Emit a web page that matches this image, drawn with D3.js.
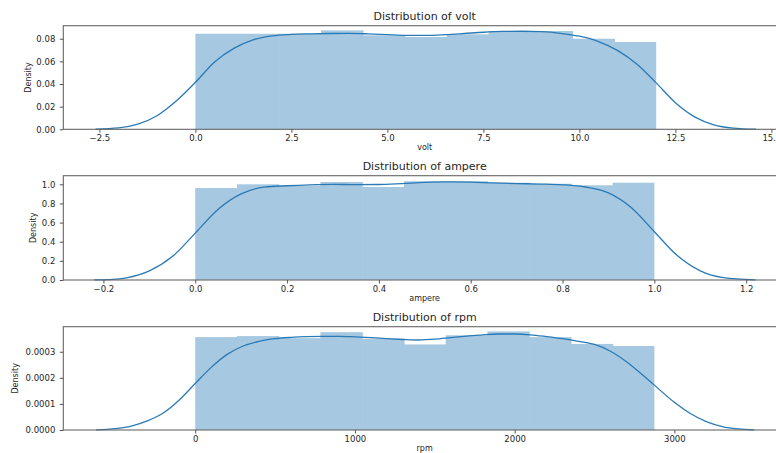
<!DOCTYPE html>
<html>
<head>
<meta charset="utf-8">
<script src="https://cdn.jsdelivr.net/npm/d3@7"></script>
<style>
  body { margin: 0; background: #fff; }
  text { font-family: "DejaVu Sans", sans-serif; fill: #262626; }
</style>
</head>
<body>
<div id="graf"></div>
<script>
// histogram heights (11 equal bins each)
var voltHist = [0.0844, 0.0844, 0.0844, 0.0874, 0.0830, 0.0815, 0.0839, 0.0868, 0.0868, 0.0800, 0.0771]
var voltRange = [0, 12]
var ampereHist = [0.961, 1.000, 0.985, 1.024, 0.972, 1.032, 1.032, 1.017, 1.006, 0.990, 1.017]
var ampereRange = [0, 1]
var rpmHist = [0.000356, 0.000360, 0.000352, 0.000375, 0.000350, 0.000328, 0.000363, 0.000378, 0.000356, 0.000330, 0.000322]
var rpmRange = [0, 2875]

// kde curves, [x, density]
var voltKde = [[-2.6, 0.0002], [-2.0, 0.0012], [-1.5, 0.0045], [-1.0, 0.012], [-0.5, 0.025], [0, 0.0415],
  [0.5, 0.0595], [1.0, 0.0715], [1.5, 0.0790], [2.0, 0.0825], [2.5, 0.0838], [3.0, 0.0843], [3.5, 0.0846],
  [4.0, 0.0847], [4.5, 0.0843], [5.0, 0.0836], [5.5, 0.0830], [6.0, 0.0830], [6.5, 0.0836], [7.0, 0.0846],
  [7.5, 0.0857], [8.0, 0.0864], [8.5, 0.0866], [9.0, 0.0862], [9.5, 0.0848], [10.0, 0.0822], [10.5, 0.0775],
  [11.0, 0.0695], [11.5, 0.0575], [12.0, 0.0410], [12.5, 0.0235], [13.0, 0.0110], [13.5, 0.0040],
  [14.0, 0.0011], [14.6, 0.0001]]
var ampereKde = [[-0.22, 0.001], [-0.18, 0.006], [-0.15, 0.022], [-0.10, 0.095], [-0.05, 0.245], [0, 0.49],
  [0.05, 0.74], [0.10, 0.90], [0.15, 0.97], [0.20, 0.985], [0.25, 0.995], [0.30, 1.0], [0.35, 0.996],
  [0.40, 0.998], [0.45, 1.008], [0.50, 1.02], [0.55, 1.025], [0.60, 1.022], [0.65, 1.014], [0.70, 1.008],
  [0.75, 1.003], [0.80, 0.995], [0.85, 0.972], [0.90, 0.91], [0.95, 0.755], [1.0, 0.505], [1.05, 0.255],
  [1.10, 0.095], [1.15, 0.025], [1.22, 0.002]]
var rpmKde = [[-620, 0.0000005], [-500, 0.000005], [-400, 0.000015], [-300, 0.000035], [-200, 0.000065],
  [-100, 0.000115], [0, 0.000178], [100, 0.00024], [200, 0.00029], [300, 0.000322], [400, 0.00034],
  [500, 0.000350], [600, 0.000355], [700, 0.000358], [800, 0.000359], [900, 0.000359], [1000, 0.000357],
  [1100, 0.000354], [1200, 0.000350], [1300, 0.000347], [1400, 0.000345], [1500, 0.000348], [1600, 0.000354],
  [1700, 0.000360], [1800, 0.000365], [1900, 0.000368], [2000, 0.000368], [2100, 0.000365], [2200, 0.000358],
  [2300, 0.000350], [2400, 0.000340], [2500, 0.000328], [2600, 0.000302], [2700, 0.000262], [2800, 0.000212],
  [2875, 0.000172], [3000, 0.000106], [3100, 0.000063], [3200, 0.000032], [3300, 0.000013], [3400, 0.000004],
  [3500, 0.0000005]]

// tick labels
var voltXTicks = [-2.5, 0, 2.5, 5, 7.5, 10, 12.5, 15]
var voltYTicks = [0, 0.02, 0.04, 0.06, 0.08]
var ampereXTicks = [-0.2, 0, 0.2, 0.4, 0.6, 0.8, 1.0, 1.2]
var ampereYTicks = [0, 0.2, 0.4, 0.6, 0.8, 1.0]
var rpmXTicks = [0, 1000, 2000, 3000]
var rpmYTicks = [0, 0.0001, 0.0002, 0.0003]

var svg = d3.select('#graf')
            .append('svg')
            .attr('width', 776)
            .attr('height', 453)

var left = 63.3, right = 786

function render(p){

  var x = d3.scaleLinear().domain(p.xdom).range([left, right])
  var y = d3.scaleLinear().domain([0, p.ymax]).range([p.bottom, p.top])

  var g = svg.append("g")

  var n = p.hist.length
  var w = (p.range[1] - p.range[0]) / n

  // bars overlap by half a pixel so no seams show between them
  g.selectAll("rect.bar")
    .data(p.hist)
    .enter()
    .append("rect")
    .attr("class", "bar")
    .attr("x", (d, i) => x(p.range[0] + i * w))
    .attr("width", (d, i) => x(p.range[0] + (i + 1) * w) - x(p.range[0] + i * w) + (i < n - 1 ? 0.6 : 0))
    .attr("y", d => y(d))
    .attr("height", d => y(0) - y(d))
    .attr("fill", "#a6c8e0")

  var line = d3.line()
               .x(d => x(d[0]))
               .y(d => y(d[1]))
               .curve(d3.curveMonotoneX)

  g.append("path")
    .datum(p.kde)
    .attr("d", line)
    .attr("fill", "none")
    .attr("stroke", "#2a7ab6")
    .attr("stroke-width", 1.3)

  // frame
  g.append("rect")
    .attr("x", left)
    .attr("y", p.top)
    .attr("width", right - left)
    .attr("height", p.bottom - p.top)
    .attr("fill", "none")
    .attr("stroke", "#666")
    .attr("stroke-width", 1.1)

  g.append("g")
    .attr("transform", "translate(0," + p.bottom + ")")
    .call(d3.axisBottom(x).tickValues(p.xticks).tickFormat(d3.format(p.xfmt)).tickSize(3.5).tickSizeOuter(0).tickPadding(2))
  g.append("g")
    .attr("transform", "translate(" + left + ",0)")
    .call(d3.axisLeft(y).tickValues(p.yticks).tickFormat(d3.format(p.yfmt)).tickSize(3.5).tickSizeOuter(0).tickPadding(4.5))

  g.selectAll(".domain").remove()
  g.selectAll(".tick line").attr("stroke", "#555")
  g.selectAll(".tick text").style("font-size", "8.5px").attr("fill", "#262626")

  g.append("text")
    .attr("x", (left + right) / 2)
    .attr("y", p.top - 5.5)
    .attr("text-anchor", "middle")
    .style("font-size", "11px")
    .text("Distribution of " + p.name)

  g.append("text")
    .attr("x", (left + right) / 2)
    .attr("y", p.bottom + 21)
    .attr("text-anchor", "middle")
    .style("font-size", "8px")
    .text(p.name)

  g.append("text")
    .attr("transform", "translate(" + p.ylabx + "," + (p.top + p.bottom) / 2 + ") rotate(-90)")
    .attr("text-anchor", "middle")
    .attr("dy", "0.35em")
    .style("font-size", "8px")
    .text("Density")
}

render({name: "volt", hist: voltHist, range: voltRange, kde: voltKde, xdom: [-3.44, 15.38], ymax: 0.0915,
        top: 25.7, bottom: 129.3, xticks: voltXTicks, yticks: voltYTicks, xfmt: ".1f", yfmt: ".2f", ylabx: 28})
render({name: "ampere", hist: ampereHist, range: ampereRange, kde: ampereKde, xdom: [-0.2874, 1.2867], ymax: 1.09,
        top: 175.7, bottom: 280, xticks: ampereXTicks, yticks: ampereYTicks, xfmt: ".1f", yfmt: ".1f", ylabx: 33})
render({name: "rpm", hist: rpmHist, range: rpmRange, kde: rpmKde, xdom: [-826, 3699], ymax: 0.000396,
        top: 326.7, bottom: 430, xticks: rpmXTicks, yticks: rpmYTicks, xfmt: "d", yfmt: ".4f", ylabx: 15})
</script>
</body>
</html>
